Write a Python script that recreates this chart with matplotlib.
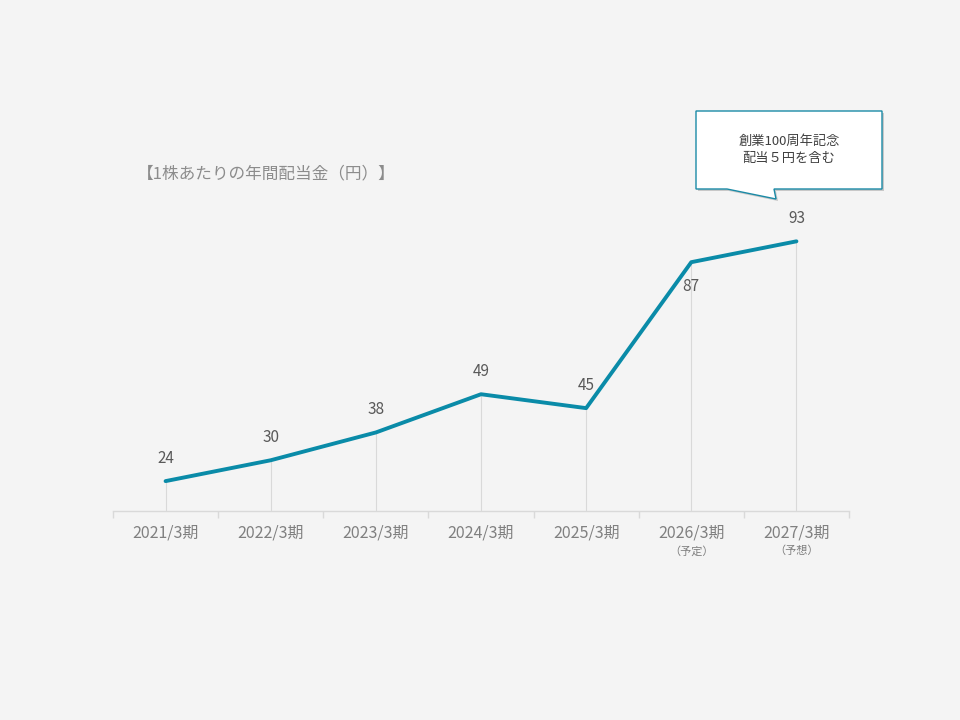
import matplotlib
matplotlib.use("Agg")
import matplotlib.pyplot as plt
from matplotlib.patches import Polygon
import matplotlib.transforms as mtransforms

plt.rcParams['font.family'] = ['Noto Sans CJK JP', 'DejaVu Sans']

# data
periods = ['2021/3期', '2022/3期', '2023/3期', '2024/3期', '2025/3期', '2026/3期', '2027/3期']
notes = ['', '', '', '', '', '（予定）', '（予想）']
dividends = [24, 30, 38, 49, 45, 87, 93]
label_below = [False, False, False, False, False, True, False]
title = '【1株あたりの年間配当金（円）】'
callout_lines = ['創業100周年記念', '配当５円を含む']

W, H = 960, 720
line_color = '#0A8BA8'
grid_color = '#d9d9d9'
bg = '#f4f4f4'


def px(x, y):
    return (x / W, 1 - y / H)


fig = plt.figure(figsize=(9.6, 7.2), dpi=100, facecolor=bg)
ax = fig.add_axes([113 / W, (H - 511) / H, (849 - 113) / W, (511 - 217) / H])
ax.set_facecolor(bg)

xs = list(range(len(periods)))
ax.set_xlim(-0.5, len(periods) - 0.5)
ax.set_ylim(15.4, 100)

# drop lines
ax.vlines(xs, 15.4, dividends, color=grid_color, linewidth=0.8, zorder=1)
ax.plot(xs, dividends, color=line_color, linewidth=2.8, solid_capstyle='round', zorder=3)

# value labels
for x, v, below in zip(xs, dividends, label_below):
    off = -24 if below else 23
    ax.annotate(str(v), (x, v), xytext=(0, off), textcoords='offset pixels',
                ha='center', va='center', fontsize=11, color='#595959')

# axes styling
for s in ['top', 'right', 'left']:
    ax.spines[s].set_visible(False)
ax.spines['bottom'].set_color(grid_color)
ax.spines['bottom'].set_linewidth(1)
ax.set_yticks([])
ax.set_xticks(xs)
ax.set_xticklabels(periods, fontsize=11.5, color='#808080')
ax.tick_params(axis='x', which='major', length=0, pad=10)
ax.set_xticks([i - 0.5 for i in range(len(periods) + 1)], minor=True)
ax.tick_params(axis='x', which='minor', length=5, color=grid_color, width=1)

trans = mtransforms.blended_transform_factory(ax.transData, fig.transFigure)
for x, n in zip(xs, notes):
    if n:
        ax.text(x, 1 - 551 / H, n, transform=trans, ha='center', va='center',
                fontsize=8, color='#7f7f7f')

# title
fig.text(*px(137, 174), title, ha='left', va='center', fontsize=12, color='#8c8c8c')

# callout box with tail
shape = [(696, 111), (882, 111), (882, 189), (774, 189), (776, 199), (727, 189), (696, 189)]
shadow = Polygon([px(x + 2, y + 2) for x, y in shape], closed=True, transform=fig.transFigure,
                 facecolor='#c8c8c8', edgecolor='none', zorder=4)
box = Polygon([px(x, y) for x, y in shape], closed=True, transform=fig.transFigure,
              facecolor='white', edgecolor='#1a8aa6', linewidth=1, zorder=5)
fig.patches.extend([shadow, box])
fig.text(*px(789, 141), callout_lines[0], ha='center', va='center', fontsize=9.5, color='#404040', zorder=6)
fig.text(*px(789, 158), callout_lines[1], ha='center', va='center', fontsize=9.5, color='#404040', zorder=6)

fig.savefig('out.png', dpi=100, facecolor=bg)
